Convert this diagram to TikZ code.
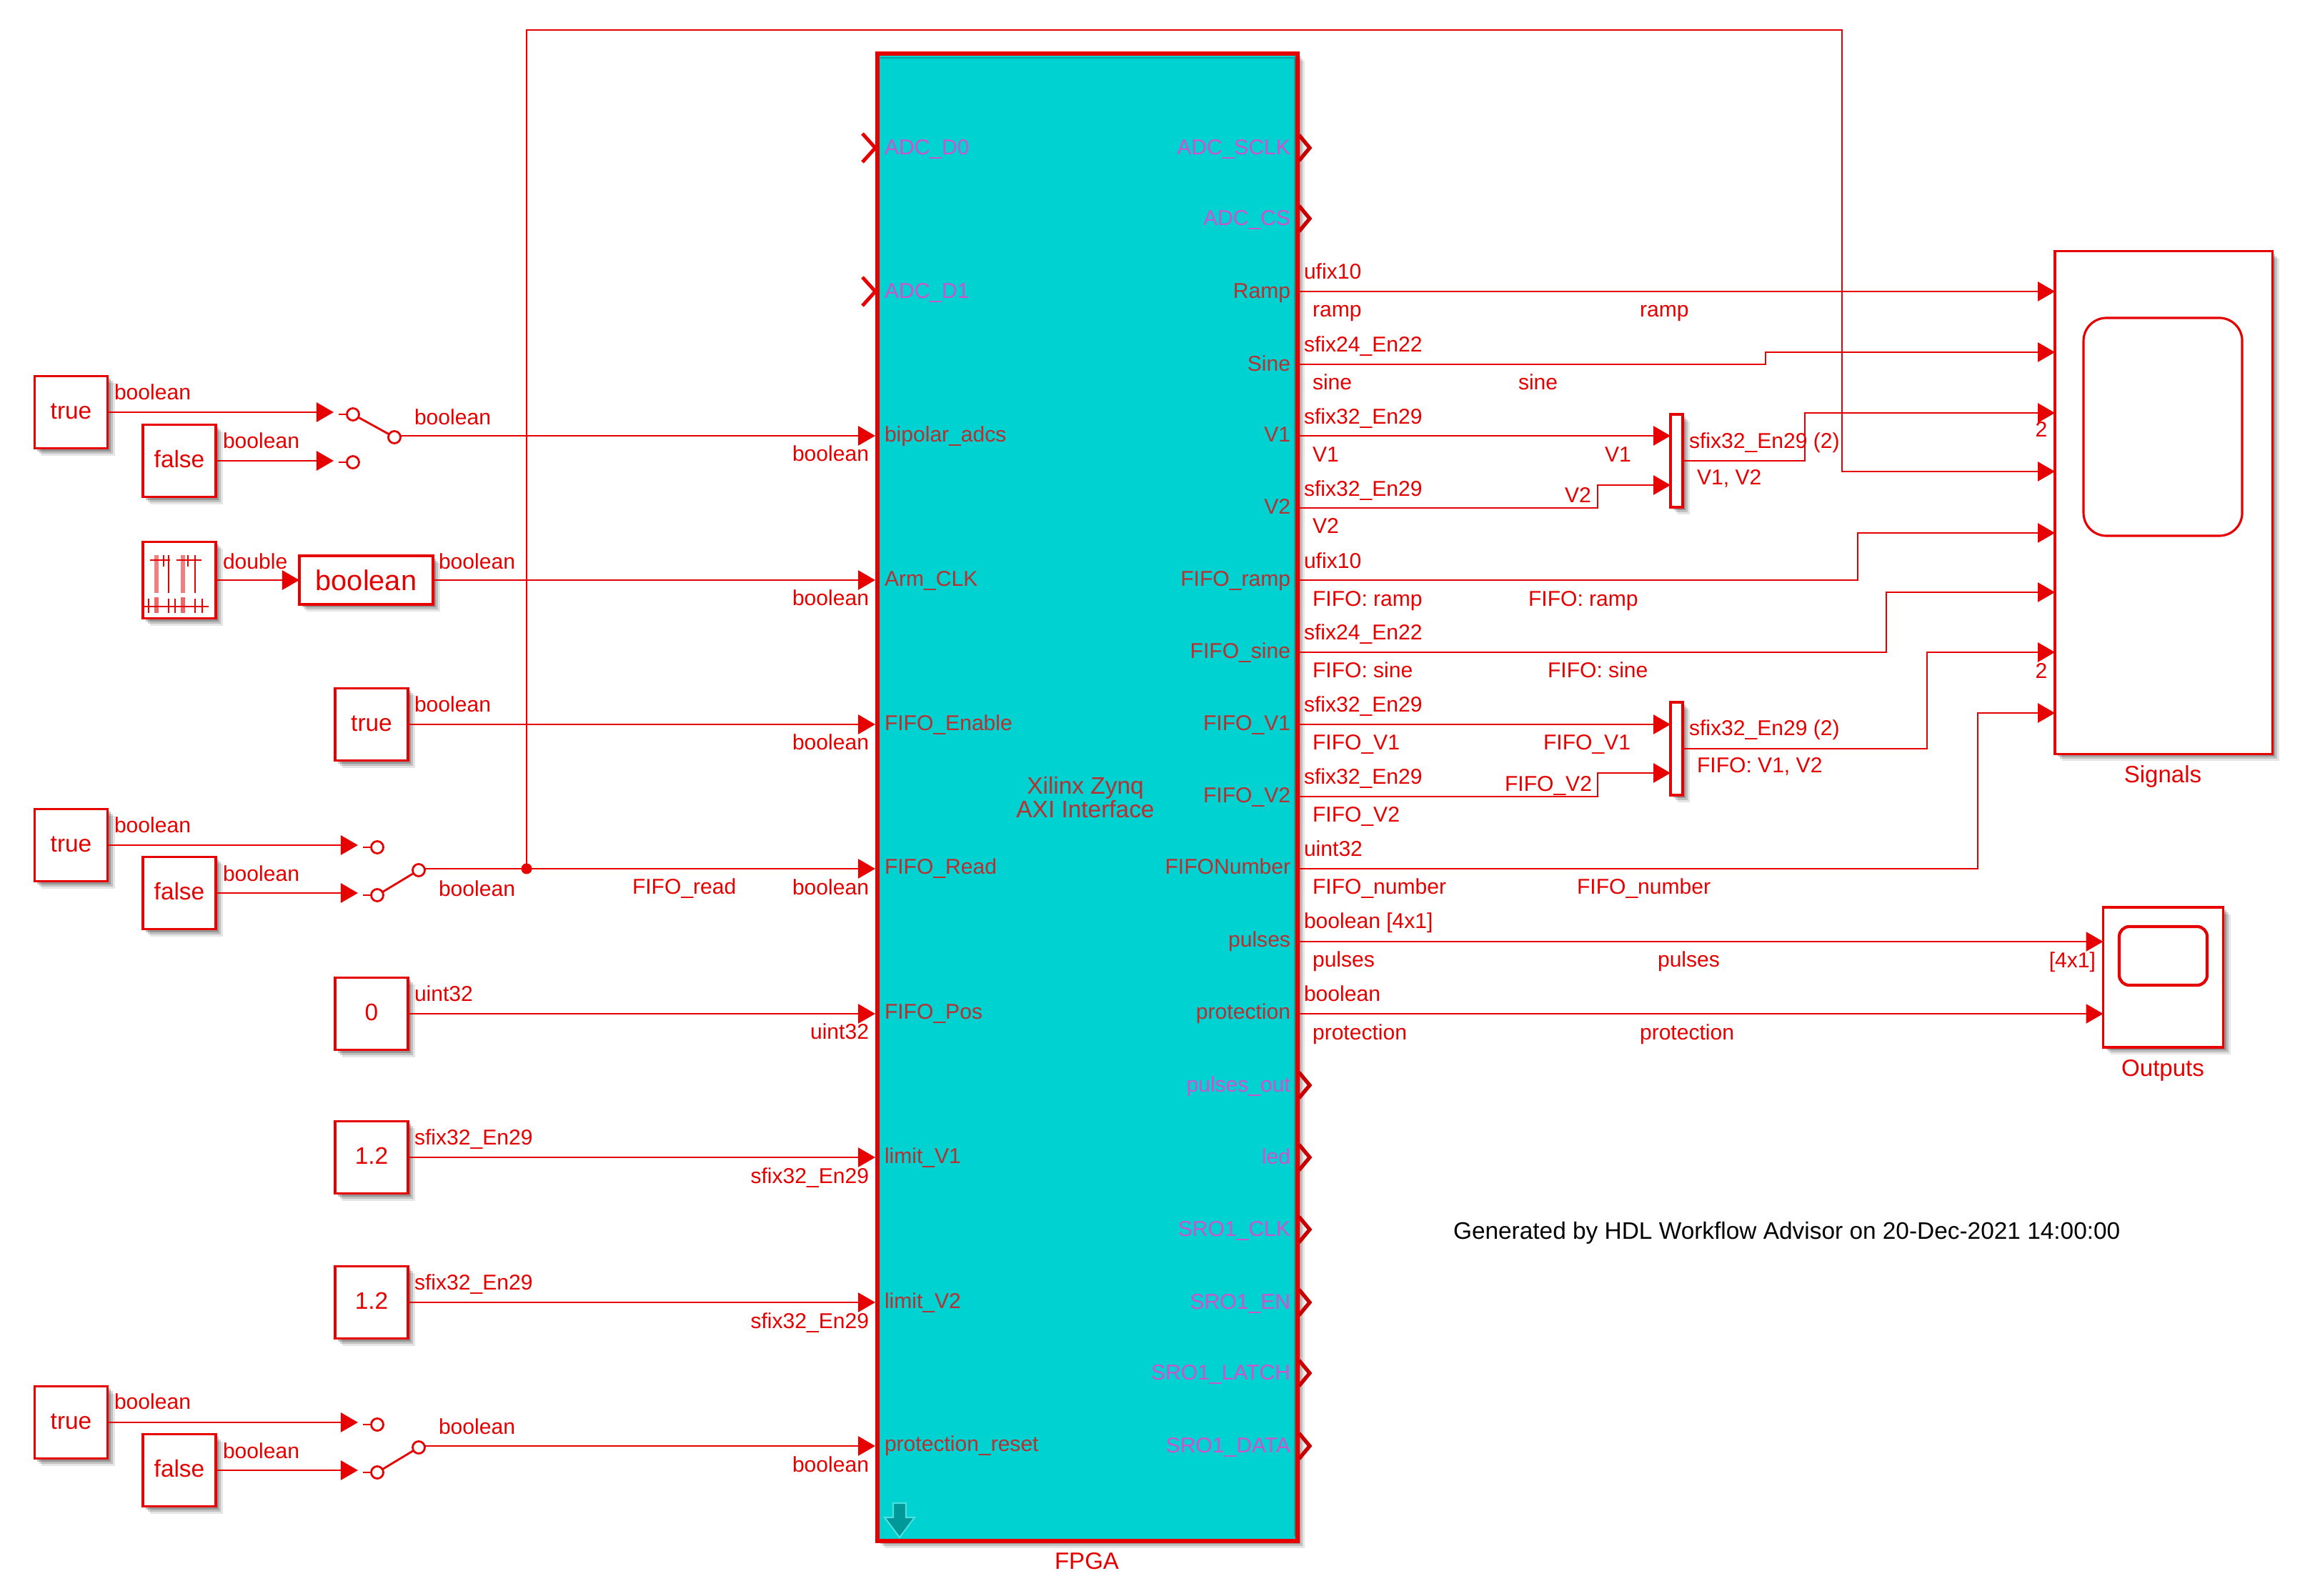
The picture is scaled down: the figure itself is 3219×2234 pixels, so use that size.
\documentclass[tikz,border=0pt]{standalone}
\usepackage{fontspec}
\setmainfont{Liberation Sans}
\usetikzlibrary{arrows.meta,shadows,calc}
\definecolor{simred}{HTML}{E60000}
\definecolor{fpgafill}{HTML}{00D1D1}
\definecolor{portin}{HTML}{B83030}
\definecolor{portio}{HTML}{D052CC}
\definecolor{chevdark}{HTML}{C80000}

\tikzset{
  shd/.style={
    general shadow={shadow xshift=.10cm, shadow yshift=-.10cm, fill=black, opacity=.10},
    general shadow={shadow xshift=.07cm, shadow yshift=-.07cm, fill=black, opacity=.16},
    general shadow={shadow xshift=.04cm, shadow yshift=-.04cm, fill=black, opacity=.22}},
  blk/.style={shd, draw=simred, fill=white, line width=.9pt, inner sep=0pt, outer sep=0pt, text=simred, font=\fontsize{9.5pt}{11pt}\selectfont},
  const/.style={blk, minimum width=1.02cm, minimum height=1.01cm, text height=6.6pt, text depth=1.3pt},
  mux/.style={blk, minimum width=.17cm, minimum height=1.30cm},
  wire/.style={draw=simred, line width=.8pt},
  arr/.style={wire, -{Triangle[length=.24cm,width=.27cm]}},
  term/.style={circle, draw=simred, fill=white, line width=.8pt, minimum size=.17cm, inner sep=0pt, outer sep=0pt},
  chev/.style={draw=simred, line width=1.4pt},
  chevo/.style={draw=chevdark, line width=1.5pt},
  lbl/.style={text=simred, inner sep=0pt, outer sep=0pt, yshift=-.025cm, font=\fontsize{8.55pt}{10pt}\selectfont, text height=6pt, text depth=1.8pt},
  ll/.style={lbl, anchor=west},
  lr/.style={lbl, anchor=east},
  pinl/.style={lbl, anchor=west, text=portin},
  poutr/.style={lbl, anchor=east, text=portin},
  pio/.style={lbl, anchor=east, text=portio},
  pii/.style={lbl, anchor=west, text=portio},
  blkcap/.style={text=simred, inner sep=0pt, font=\fontsize{9.4pt}{11pt}\selectfont}
}

\begin{document}
\begin{tikzpicture}[x=.01cm, y=-.01cm]
\useasboundingbox (0,0) rectangle (3219,2234);

% FPGA subsystem
\node[shd, draw=simred, fill=fpgafill, line width=1.7pt, minimum width=5.88cm, minimum height=20.80cm, inner sep=0pt, outer sep=0pt] (fpga) at (1522,1116) {};
\draw[draw=fpgafill!80!black, line width=.6pt] (1232,81) -- (1812,81) -- (1812,2151);
\node[align=center, inner sep=0pt, font=\fontsize{9.5pt}{9.5pt}\selectfont, text=portin] (fpganame) at (1519,1116) {Xilinx Zynq\\[-.3pt]AXI Interface};
\node[blkcap] (fpgalab) at (1521,2185) {FPGA};
\path[fill=teal!70!fpgafill, draw=fpgafill!70!white, line width=.6pt] (1250,2104) -- (1268,2104) -- (1268,2124) -- (1280,2124) -- (1259,2152) -- (1238,2124) -- (1250,2124) -- cycle;

% FPGA port positions
\foreach \nm/\yy in {pD0/207,pD1/408,pBip/610,pArm/812,pEn/1014,pRead/1216,pPos/1419,pLimA/1620,pLimB/1823,pRst/2024}
  \coordinate (\nm) at (1225,\yy);
\foreach \nm/\yy in {qSclk/207,qCs/306,qRamp/408,qSine/510,qV1/610,qV2/711,qFr/812,qFs/913,qFa/1014,qFb/1115,qNum/1216,qPul/1318,qProt/1419,qOut/1519,qLed/1620,qClk/1721,qEn/1823,qLat/1922,qDat/2024}
  \coordinate (\nm) at (1819,\yy);

% port texts
\node[pii] (nD0) at (1238,207) {ADC\_D0};
\node[pii] (nD1) at (1238,408) {ADC\_D1};
\node[pinl] (nBip) at (1238,609) {bipolar\_adcs};
\node[pinl] (nArm) at (1238,811) {Arm\_CLK};
\node[pinl] (nEn) at (1238,1013) {FIFO\_Enable};
\node[pinl] (nRead) at (1238,1214) {FIFO\_Read};
\node[pinl] (nPos) at (1238,1417) {FIFO\_Pos};
\node[pinl] (nLimA) at (1238,1619) {limit\_V1};
\node[pinl] (nLimB) at (1238,1822) {limit\_V2};
\node[pinl] (nRst) at (1238,2022) {protection\_reset};
\node[pio] (mSclk) at (1806,207) {ADC\_SCLK};
\node[pio] (mCs) at (1806,306) {ADC\_CS};
\node[poutr] (mRamp) at (1806,408) {Ramp};
\node[poutr] (mSine) at (1806,510) {Sine};
\node[poutr] (mV1) at (1806,609) {V1};
\node[poutr] (mV2) at (1806,710) {V2};
\node[poutr] (mFr) at (1806,811) {FIFO\_ramp};
\node[poutr] (mFs) at (1806,912) {FIFO\_sine};
\node[poutr] (mFa) at (1806,1013) {FIFO\_V1};
\node[poutr] (mFb) at (1806,1114) {FIFO\_V2};
\node[poutr] (mNum) at (1806,1214) {FIFONumber};
\node[poutr] (mPul) at (1806,1316) {pulses};
\node[poutr] (mProt) at (1806,1417) {protection};
\node[pio] (mOut) at (1806,1519) {pulses\_out};
\node[pio] (mLed) at (1806,1620) {led};
\node[pio] (mClk) at (1806,1721) {SRO1\_CLK};
\node[pio] (mEn) at (1806,1823) {SRO1\_EN};
\node[pio] (mLat) at (1806,1922) {SRO1\_LATCH};
\node[pio] (mDat) at (1806,2024) {SRO1\_DATA};

% unconnected ports
\foreach \nm in {pD0,pD1}
  \draw[chev] ($(\nm)+(-18,-20)$) -- (\nm) -- ($(\nm)+(-18,20)$);
\foreach \nm in {qSclk,qCs,qOut,qLed,qClk,qEn,qLat,qDat}
  \draw[chevo] ($(\nm)+(-1,-18)$) -- ($(\nm)+(14,0)$) -- ($(\nm)+(-1,18)$);

% sources, left side
\node[const] (t1) at (99.5,577) {true};
\node[const] (f1) at (251,645) {false};
\node[blk, minimum width=1.02cm, minimum height=1.07cm] (clk) at (251,812) {};
\node[blk, font=\fontsize{11.3pt}{13pt}\selectfont, minimum width=1.87cm, minimum height=.68cm] (conv) at (512.5,812) {boolean};
\node[const] (t2) at (520,1014) {true};
\node[const] (t3) at (99.5,1183) {true};
\node[const] (f3) at (251,1250) {false};
\node[const] (c0) at (520,1419) {0};
\node[const] (cA) at (520,1620) {1.2};
\node[const] (cB) at (520,1823) {1.2};
\node[const] (t4) at (99.5,1991) {true};
\node[const] (f4) at (251,2058) {false};

% pulse generator icon
\begin{scope}[wire, line width=.8pt]
  \draw (210,784) -- (238,784) (247,784) -- (282,784);
  \draw[line width=.6pt] (229,777) -- (229,793) (263,777) -- (263,793);
  \draw[opacity=.5, line width=1.5pt] (219,777) -- (219,830) (256,777) -- (256,830);
  \draw (236,777) -- (236,830) (273,777) -- (273,830);
  \draw (202,849) -- (292,849);
  \draw[opacity=.6, line width=1.5pt] (219,836) -- (219,858) (256,836) -- (256,858);
  \foreach \xx in {208,236,245,273,283} \draw (\xx,838) -- (\xx,858);
\end{scope}

% switches
\node[term] (s1a) at (494,580) {};
\node[term] (s1b) at (494,647) {};
\node[term] (s1o) at (552,612) {};
\coordinate (s1ai) at (467,577);
\coordinate (s1bi) at (467,645);
\draw[wire] (s1a) -- (s1o);
\draw[wire] (s1a.west) -- ++(-12,0);
\draw[wire] (s1b.west) -- ++(-12,0);
\draw[arr] (t1.east) -- (s1ai);
\draw[arr] (f1.east) -- (s1bi);
\draw[arr] (s1o.east |- pBip) -- (pBip);

\node[term] (s3a) at (528,1186) {};
\node[term] (s3b) at (528,1253) {};
\node[term] (s3o) at (586,1218) {};
\coordinate (s3ai) at (501,1183);
\coordinate (s3bi) at (501,1250);
\draw[wire] (s3b) -- (s3o);
\draw[wire] (s3a.west) -- ++(-12,0);
\draw[wire] (s3b.west) -- ++(-12,0);
\draw[arr] (t3.east) -- (s3ai);
\draw[arr] (f3.east) -- (s3bi);

\node[term] (s4a) at (528,1994) {};
\node[term] (s4b) at (528,2061) {};
\node[term] (s4o) at (586,2026) {};
\coordinate (s4ai) at (501,1991);
\coordinate (s4bi) at (501,2058);
\draw[wire] (s4b) -- (s4o);
\draw[wire] (s4a.west) -- ++(-12,0);
\draw[wire] (s4b.west) -- ++(-12,0);
\draw[arr] (t4.east) -- (s4ai);
\draw[arr] (f4.east) -- (s4bi);
\draw[arr] (s4o.east |- pRst) -- (pRst);

% left wires
\draw[arr] (clk.east) -- (conv.west);
\draw[arr] (conv.east) -- (pArm);
\draw[arr] (t2.east) -- (pEn);
\draw[arr] (s3o.east |- pRead) -- (pRead);
\draw[arr] (c0.east) -- (pPos);
\draw[arr] (cA.east) -- (pLimA);
\draw[arr] (cB.east) -- (pLimB);

% muxes and scopes
\node[mux] (mx1) at (2346.5,645) {};
\node[mux] (mx2) at (2346.5,1048) {};
\node[blk, minimum width=3.04cm, minimum height=7.03cm] (sig) at (3028,703.5) {};
\draw[draw=simred, line width=.9pt, rounded corners=.32cm] (2916,445) rectangle (3138,750);
\node[blkcap] (siglab) at (3027,1087) {Signals};
\node[blk, minimum width=1.68cm, minimum height=1.96cm] (outp) at (3027.5,1368) {};
\draw[draw=simred, line width=1.2pt, rounded corners=.14cm] (2966,1297) rectangle (3089,1379);
\node[blkcap] (outlab) at (3027,1498) {Outputs};

\foreach \nm/\yy in {sA/408,sB/493,sC/578,sD/660,sE/746,sF/829,sG/913,sH/998}
  \coordinate (\nm) at (2876,\yy);
\coordinate (oA) at (2943.5,1318);
\coordinate (oB) at (2943.5,1419);
\coordinate (jn) at (737,1216);

% right wires
\draw[arr] (qRamp) -- (sA);
\draw[arr] (qSine) -- ++(652,0) |- (sB);
\draw[arr] (qV1) -- (qV1 -| mx1.west);
\draw[arr] (qV2) -- ++(417,0) |- ($(mx1.west)+(0,34)$);
\draw[arr] (mx1.east) -- ++(171,0) |- (sC);
\draw[arr] (qFr) -- ++(781,0) |- (sE);
\draw[arr] (qFs) -- ++(821,0) |- (sF);
\draw[arr] (qFa) -- (qFa -| mx2.west);
\draw[arr] (qFb) -- ++(417,0) |- ($(mx2.west)+(0,34)$);
\draw[arr] (mx2.east) -- ++(342,0) |- (sG);
\draw[arr] (qNum) -- ++(949,0) |- (sH);
\draw[arr] (qPul) -- (oA);
\draw[arr] (qProt) -- (oB);

% feedback from FIFO_read
\draw[arr] (jn) -- ++(0,-1174) -| (2578,660) -- (sD);
\node[circle, fill=simred, inner sep=0pt, minimum size=.15cm] (jnode) at (jn) {};

% signal labels, left side
\node[ll] (a1) at (160,550) {boolean};
\node[ll] (a2) at (312,618) {boolean};
\node[ll] (a3) at (580,585) {boolean};
\node[lr] (a4) at (1216,636) {boolean};
\node[ll] (a5) at (312,787) {double};
\node[ll] (a6) at (614,787) {boolean};
\node[lr] (a7) at (1216,838) {boolean};
\node[ll] (a8) at (580,987) {boolean};
\node[lr] (a9) at (1216,1040) {boolean};
\node[ll] (a10) at (160,1156) {boolean};
\node[ll] (a11) at (312,1224) {boolean};
\node[ll] (a12) at (614,1245) {boolean};
\node[ll] (a13) at (885,1242) {FIFO\_read};
\node[lr] (a14) at (1216,1243) {boolean};
\node[ll] (a15) at (580,1392) {uint32};
\node[lr] (a16) at (1216,1445) {uint32};
\node[ll] (a17) at (580,1593) {sfix32\_En29};
\node[lr] (a18) at (1216,1647) {sfix32\_En29};
\node[ll] (a19) at (580,1796) {sfix32\_En29};
\node[lr] (a20) at (1216,1850) {sfix32\_En29};
\node[ll] (a21) at (160,1963) {boolean};
\node[ll] (a22) at (312,2032) {boolean};
\node[ll] (a23) at (614,1998) {boolean};
\node[lr] (a24) at (1216,2051) {boolean};

% signal labels, right side
\node[ll] (b1) at (1825,381) {ufix10};
\node[ll] (b2) at (1837,434) {ramp};
\node[ll] (b3) at (2295,434) {ramp};
\node[ll] (b4) at (1825,483) {sfix24\_En22};
\node[ll] (b5) at (1837,536) {sine};
\node[ll] (b6) at (2125,536) {sine};
\node[ll] (b7) at (1825,584) {sfix32\_En29};
\node[ll] (b8) at (1837,637) {V1};
\node[ll] (b9) at (2246,637) {V1};
\node[ll] (b10) at (1825,685) {sfix32\_En29};
\node[ll] (b11) at (1837,737) {V2};
\node[ll] (b12) at (2190,694) {V2};
\node[ll] (b13) at (2364,618) {sfix32\_En29 (2)};
\node[ll] (b14) at (2375,669) {V1, V2};
\node[lbl] (b15) at (2857,602) {2};
\node[ll] (b16) at (1825,786) {ufix10};
\node[ll] (b17) at (1837,839) {FIFO: ramp};
\node[ll] (b18) at (2139,839) {FIFO: ramp};
\node[ll] (b19) at (1825,886) {sfix24\_En22};
\node[ll] (b20) at (1837,939) {FIFO: sine};
\node[ll] (b21) at (2166,939) {FIFO: sine};
\node[ll] (b22) at (1825,987) {sfix32\_En29};
\node[ll] (b23) at (1837,1040) {FIFO\_V1};
\node[ll] (b24) at (2160,1040) {FIFO\_V1};
\node[ll] (b25) at (1825,1088) {sfix32\_En29};
\node[ll] (b26) at (1837,1141) {FIFO\_V2};
\node[ll] (b27) at (2106,1098) {FIFO\_V2};
\node[ll] (b28) at (2364,1020) {sfix32\_En29 (2)};
\node[ll] (b29) at (2375,1072) {FIFO: V1, V2};
\node[lbl] (b30) at (2857,940) {2};
\node[ll] (b31) at (1825,1189) {uint32};
\node[ll] (b32) at (1837,1242) {FIFO\_number};
\node[ll] (b33) at (2207,1242) {FIFO\_number};
\node[ll] (b34) at (1825,1290) {boolean [4x1]};
\node[ll] (b35) at (1837,1344) {pulses};
\node[ll] (b36) at (2320,1344) {pulses};
\node[lr] (b37) at (2933,1345) {[4x1]};
\node[ll] (b38) at (1825,1392) {boolean};
\node[ll] (b39) at (1837,1446) {protection};
\node[ll] (b40) at (2295,1446) {protection};

\node[ll, text=black, font=\fontsize{9.5pt}{11pt}\selectfont] (gen) at (2034,1725) {Generated by HDL Workflow Advisor on 20-Dec-2021 14:00:00};
\end{tikzpicture}
\end{document}
